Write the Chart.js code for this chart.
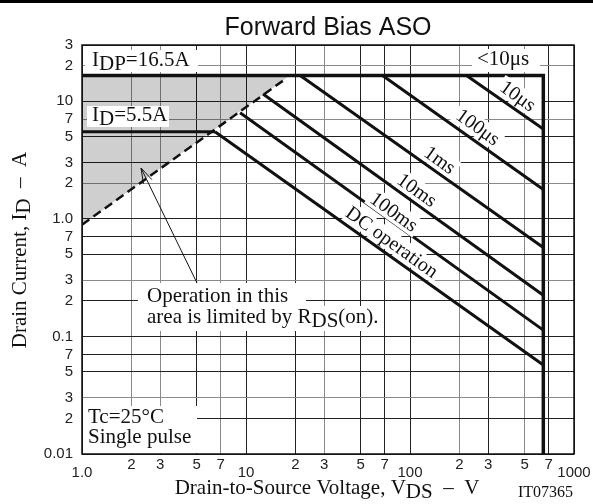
<!DOCTYPE html>
<html>
<head>
<meta charset="utf-8">
<script src="https://cdn.jsdelivr.net/npm/chart.js@4.4.0/dist/chart.umd.min.js"></script>
<style>
html, body { margin: 0; padding: 0; background: #fff; }
canvas { display: block; }
</style>
</head>
<body>
<canvas id="aso" width="593" height="504"></canvas>
<script>
// axis ticks (log-log)
const xTicks = [1, 2, 3, 5, 7, 10, 20, 30, 50, 70, 100, 200, 300, 500, 700, 1000];
const xTickLabels = ['1.0', '2', '3', '5', '7', '10', '2', '3', '5', '7', '100', '2', '3', '5', '7', '1000'];
const yTicks = [0.01, 0.02, 0.03, 0.05, 0.07, 0.1, 0.2, 0.3, 0.5, 0.7, 1, 2, 3, 5, 7, 10, 20, 30];
const yTickLabels = ['0.01', '2', '3', '5', '7', '0.1', '2', '3', '5', '7', '1.0', '2', '3', '5', '7', '10', '2', '3'];

// limit lines, V / A
const limitV = [1, 650, 650];
const limitI = [16.5, 16.5, 0.01];
const idV = [1, 6.47];
const idI = [5.5, 5.5];
const rdsV = [1, 16.8];
const rdsI = [0.89, 14.9];
const shadeV = [1, 18.5];
const shadeI = [0.89, 16.5];

// pulse width curves
const curveNames = ['10μs', '100μs', '1ms', '10ms', '100ms', 'DC operation'];
const curveStartV = [221, 68, 21.4, 12.7, 9.2, 6.47];
const curveStartI = [16.5, 16.5, 16.5, 11.5, 7.95, 5.5];
const curveEndV = [650, 650, 650, 650, 650, 650];
const curveEndI = [5.8, 1.77, 0.57, 0.224, 0.113, 0.057];

const grayX = [2, 3, 7, 30, 200, 500];
const grayY = [0.03, 0.3, 2, 7, 20];

const serif = '"Liberation Serif", "Times New Roman", serif';
const sans = '"Liberation Sans", Arial, sans-serif';

function pts(xs, ys) {
  return xs.map(function (x, i) { return { x: x, y: ys[i] }; });
}

const datasets = [
  { data: pts(rdsV, rdsI), borderColor: '#111', borderWidth: 2.5, borderDash: [9, 5] },
  { data: pts(limitV, limitI), borderColor: '#111', borderWidth: 3.5 },
  { data: pts(idV, idI), borderColor: '#111', borderWidth: 3 }
];
for (let i = 0; i < curveNames.length; i++) {
  datasets.push({
    label: curveNames[i],
    data: [{ x: curveStartV[i], y: curveStartI[i] }, { x: curveEndV[i], y: curveEndI[i] }],
    borderColor: '#111',
    borderWidth: 3
  });
}
datasets.push({ data: pts(shadeV, shadeI), borderWidth: 0, backgroundColor: 'rgba(0,0,0,0.19)', fill: { value: 16.5 } });

// text with subscripts: parts = [[text, isSub], ...]
function rich(ctx, parts, x, y, align) {
  let w = 0;
  parts.forEach(function (p) { w += ctx.measureText(p[0]).width; });
  let cx = align === 'center' ? x - w / 2 : (align === 'right' ? x - w : x);
  ctx.textAlign = 'left';
  parts.forEach(function (p) {
    ctx.fillText(p[0], cx, y + (p[1] ? 4 : 0));
    cx += ctx.measureText(p[0]).width;
  });
  return w;
}

function box(ctx, x1, y1, x2, y2) {
  ctx.fillStyle = '#fff';
  ctx.fillRect(x1, y1, x2 - x1, y2 - y1);
  ctx.fillStyle = '#111';
}

const decor = {
  id: 'decor',
  afterDraw(chart) {
    const ctx = chart.ctx;
    const a = chart.chartArea;
    const sx = chart.scales.x, sy = chart.scales.y;
    ctx.save();
    ctx.fillStyle = '#000';
    ctx.fillRect(0, 0, chart.width, 3);

    ctx.strokeStyle = '#111';
    ctx.lineWidth = 1.5;
    ctx.strokeRect(a.left, a.top, a.right - a.left, a.bottom - a.top);

    // title
    ctx.fillStyle = '#111';
    ctx.font = '25px ' + sans;
    ctx.textBaseline = 'alphabetic';
    ctx.textAlign = 'center';
    ctx.fillText('Forward Bias ASO', (a.left + a.right) / 2, 35);

    ctx.font = '21px ' + serif;
    // boxed labels
    box(ctx, 85, 50, 198, 72);
    rich(ctx, [['I', 0], ['DP', 1], ['=16.5A', 0]], 92, 66, 'left');
    box(ctx, 87, 106, 169, 127);
    rich(ctx, [['I', 0], ['D', 1], ['=5.5A', 0]], 92, 121, 'left');
    box(ctx, 472, 49, 540, 72);
    rich(ctx, [['<10μs', 0]], 477, 65, 'left');

    box(ctx, a.left + 1, 406, 197, a.bottom - 1);
    rich(ctx, [['Tc=25°C', 0]], 88, 423, 'left');
    rich(ctx, [['Single pulse', 0]], 88, 443, 'left');

    box(ctx, 138, 283, 306, 307);
    box(ctx, 138, 306, 382, 331);
    rich(ctx, [['Operation in this', 0]], 147, 302, 'left');
    rich(ctx, [['area is limited by R', 0], ['DS', 1], ['(on).', 0]], 147, 323, 'left');

    // arrow
    const tail = [197, 283], tip = [141, 168];
    ctx.strokeStyle = '#111';
    ctx.lineWidth = 1;
    ctx.beginPath();
    ctx.moveTo(tail[0], tail[1]);
    ctx.lineTo(tip[0], tip[1]);
    const ang = Math.atan2(tail[1] - tip[1], tail[0] - tip[0]);
    ctx.moveTo(tip[0] + 16 * Math.cos(ang - 0.3), tip[1] + 16 * Math.sin(ang - 0.3));
    ctx.lineTo(tip[0], tip[1]);
    ctx.lineTo(tip[0] + 16 * Math.cos(ang + 0.3), tip[1] + 16 * Math.sin(ang + 0.3));
    ctx.stroke();

    // labels along the curves
    const dx = sx.getPixelForValue(10) - sx.getPixelForValue(1);
    const dy = sy.getPixelForValue(0.1) - sy.getPixelForValue(1);
    const th = Math.atan2(dy, dx);
    const spots = [[518, 96], [478, 127], [440, 160], [417, 190], [394, 212], [392, 242]];
    ctx.font = '20px ' + serif;
    ctx.textBaseline = 'middle';
    curveNames.forEach(function (n, i) {
      ctx.save();
      ctx.translate(spots[i][0], spots[i][1]);
      ctx.rotate(th);
      const w = ctx.measureText(n).width;
      ctx.fillStyle = '#fff';
      ctx.fillRect(-w / 2 - 3, -10, w + 6, 20);
      ctx.fillStyle = '#111';
      ctx.textAlign = 'center';
      ctx.fillText(n, 0, 1);
      ctx.restore();
    });

    // axis titles
    ctx.textBaseline = 'alphabetic';
    ctx.font = '21px ' + serif;
    ctx.fillStyle = '#111';
    rich(ctx, [['Drain-to-Source Voltage, V', 0], ['DS', 1], ['  –  V', 0]], 327, 494, 'center');
    ctx.font = '16px ' + serif;
    rich(ctx, [['IT07365', 0]], 518, 497, 'left');

    ctx.font = '21px ' + serif;
    ctx.translate(26, 250);
    ctx.rotate(-Math.PI / 2);
    rich(ctx, [['Drain Current, I', 0], ['D', 1], ['  –  A', 0]], 0, 0, 'center');
    ctx.restore();
  }
};

new Chart(document.getElementById('aso'), {
  type: 'line',
  data: { datasets: datasets },
  options: {
    responsive: false,
    animation: false,
    devicePixelRatio: 1,
    layout: { autoPadding: false, padding: { top: 45, right: 19, left: 0, bottom: 0 } },
    elements: { point: { radius: 0 }, line: { tension: 0 } },
    plugins: { legend: { display: false }, tooltip: { enabled: false } },
    scales: {
      x: {
        type: 'logarithmic',
        min: 1,
        max: 1000,
        afterBuildTicks: function (s) { s.ticks = xTicks.map(function (v) { return { value: v }; }); },
        afterFit: function (s) { s.height = 50; },
        border: { display: false },
        grid: {
          drawTicks: false,
          lineWidth: 1,
          color: function (c) { return grayX.indexOf(c.tick && c.tick.value) >= 0 ? '#8a8a8a' : '#222'; }
        },
        ticks: {
          autoSkip: false,
          maxRotation: 0,
          padding: 2,
          color: '#222',
          font: function (c) {
            const v = c.tick ? c.tick.value : 0;
            const dec = [1, 10, 100, 1000].indexOf(v) >= 0;
            return { family: sans, size: 15, lineHeight: dec ? '11px' : 1.2 };
          },
          callback: function (v, i) {
            const t = xTickLabels[i];
            return [1, 10, 100, 1000].indexOf(v) >= 0 ? ['', t] : t;
          }
        }
      },
      y: {
        type: 'logarithmic',
        min: 0.01,
        max: 30,
        afterBuildTicks: function (s) { s.ticks = yTicks.map(function (v) { return { value: v }; }); },
        afterFit: function (s) { s.width = 82; },
        border: { display: false },
        grid: {
          drawTicks: false,
          lineWidth: 1,
          color: function (c) { return grayY.indexOf(c.tick && c.tick.value) >= 0 ? '#8a8a8a' : '#222'; }
        },
        ticks: {
          autoSkip: false,
          padding: 9,
          color: '#222',
          font: { family: sans, size: 15 },
          callback: function (v, i) { return yTickLabels[i]; }
        }
      }
    }
  },
  plugins: [decor]
});
</script>
</body>
</html>
